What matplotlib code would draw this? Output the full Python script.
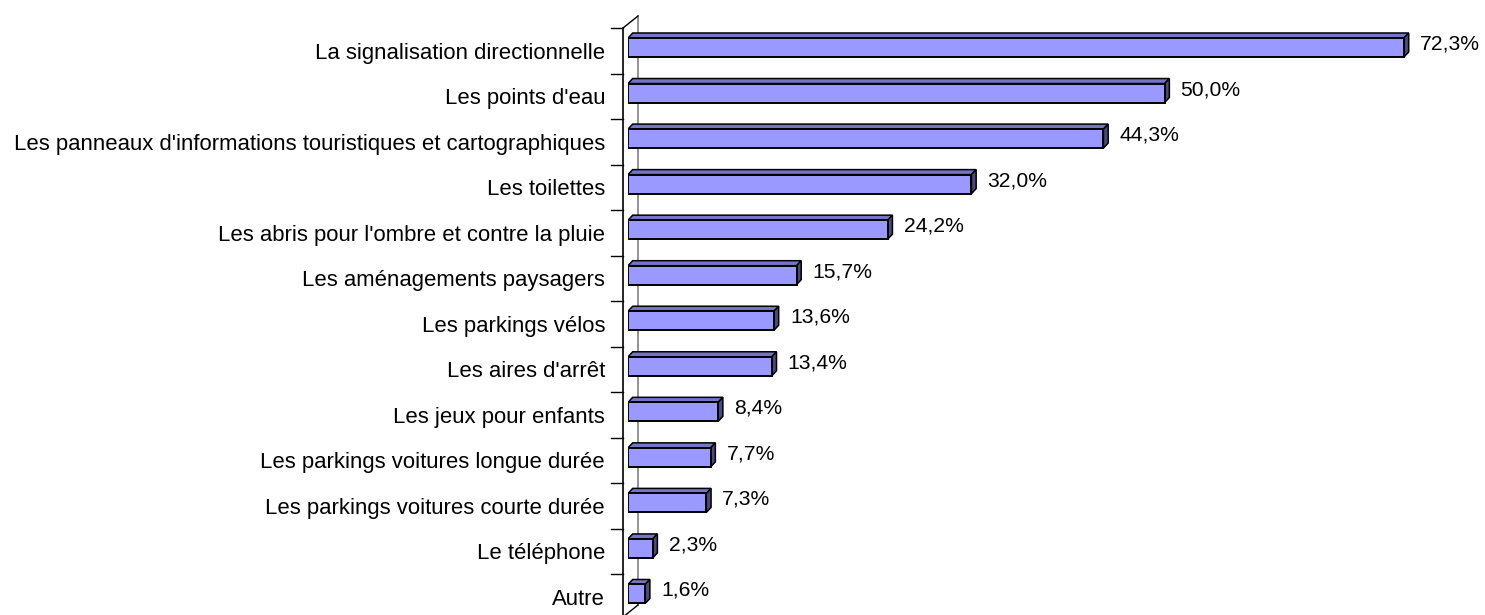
import matplotlib
matplotlib.use("Agg")
import matplotlib.pyplot as plt
import matplotlib.transforms as mtransforms
from matplotlib.patches import Polygon, Rectangle

categories = [
    "La signalisation directionnelle",
    "Les points d'eau",
    "Les panneaux d'informations touristiques et cartographiques",
    "Les toilettes",
    "Les abris pour l'ombre et contre la pluie",
    "Les aménagements paysagers",
    "Les parkings vélos",
    "Les aires d'arrêt",
    "Les jeux pour enfants",
    "Les parkings voitures longue durée",
    "Les parkings voitures courte durée",
    "Le téléphone",
    "Autre",
]
values = [72.3, 50.0, 44.3, 32.0, 24.2, 15.7, 13.6, 13.4, 8.4, 7.7, 7.3, 2.3, 1.6]
value_labels = ["72,3%", "50,0%", "44,3%", "32,0%", "24,2%", "15,7%", "13,6%",
                "13,4%", "8,4%", "7,7%", "7,3%", "2,3%", "1,6%"]

plt.rcParams['font.family'] = ['Liberation Sans', 'DejaVu Sans']

W, H = 1485, 615
fig = plt.figure(figsize=(W / 100, H / 100), dpi=100)
x0_px = 628
px_per_x = 776 / 72.3
cat_px = 45.54
c0_px = 47.5

ax = fig.add_axes([x0_px / W, 0, 1 - x0_px / W, 1])
ax.set_xlim(0, (W - x0_px) / px_per_x)
ax.set_ylim((H - c0_px) / cat_px, -c0_px / cat_px)
for s in ax.spines.values():
    s.set_visible(False)
ax.set_xticks([])

n = len(categories)
ax.set_yticks(range(n))
ax.set_yticklabels(categories, fontsize=15.95)
ax.tick_params(axis='y', length=0, pad=16.5)
shift = mtransforms.ScaledTranslation(0, -3 / 100, fig.dpi_scale_trans)
for lab in ax.get_yticklabels():
    lab.set_transform(lab.get_transform() + shift)

dx = 4.7 / px_per_x
dy = 5.0 / cat_px
half = 9.5 / cat_px

face = "#9999FF"
top_c = "#7575C8"
side_c = "#4A4A7E"

for i, v in enumerate(values):
    top = i - half
    bot = i + half
    ax.add_patch(Polygon([(0, top), (v, top), (v + dx, top - dy), (dx, top - dy)],
                         closed=True, facecolor=top_c, edgecolor="black", lw=1.1, zorder=3))
    ax.add_patch(Polygon([(v, top), (v + dx, top - dy), (v + dx, bot - dy), (v, bot)],
                         closed=True, facecolor=side_c, edgecolor="black", lw=1.1, zorder=3))
    ax.add_patch(Rectangle((0, top), v, bot - top, facecolor=face,
                           edgecolor="black", lw=1.4, zorder=4))
    ax.text(v + 16 / px_per_x, i - 3.5 / cat_px, value_labels[i], fontsize=15.2,
            ha="left", va="center", zorder=5)

# axis and wall lines
ax_x = -5 / px_per_x
wall_x = 10 / px_per_x
tick_first = (28 - c0_px) / cat_px
ax.plot([ax_x, ax_x], [tick_first, n + 1], color="black", lw=1.2, clip_on=False, zorder=2)
ax.plot([wall_x, wall_x], [(16 - c0_px) / cat_px, (605 - c0_px) / cat_px],
        color="#808080", lw=1.2, clip_on=False, zorder=1)
ax.plot([ax_x, wall_x], [tick_first, (16 - c0_px) / cat_px],
        color="black", lw=1.0, clip_on=False, zorder=2)
ax.plot([wall_x, ax_x], [(605 - c0_px) / cat_px, (617 - c0_px) / cat_px],
        color="black", lw=1.0, clip_on=False, zorder=2)
for k in range(n + 1):
    yk = tick_first + k
    ax.plot([ax_x - 12 / px_per_x, ax_x], [yk, yk], color="black", lw=1.0,
            clip_on=False, zorder=2)

fig.savefig("out.png", dpi=100)
